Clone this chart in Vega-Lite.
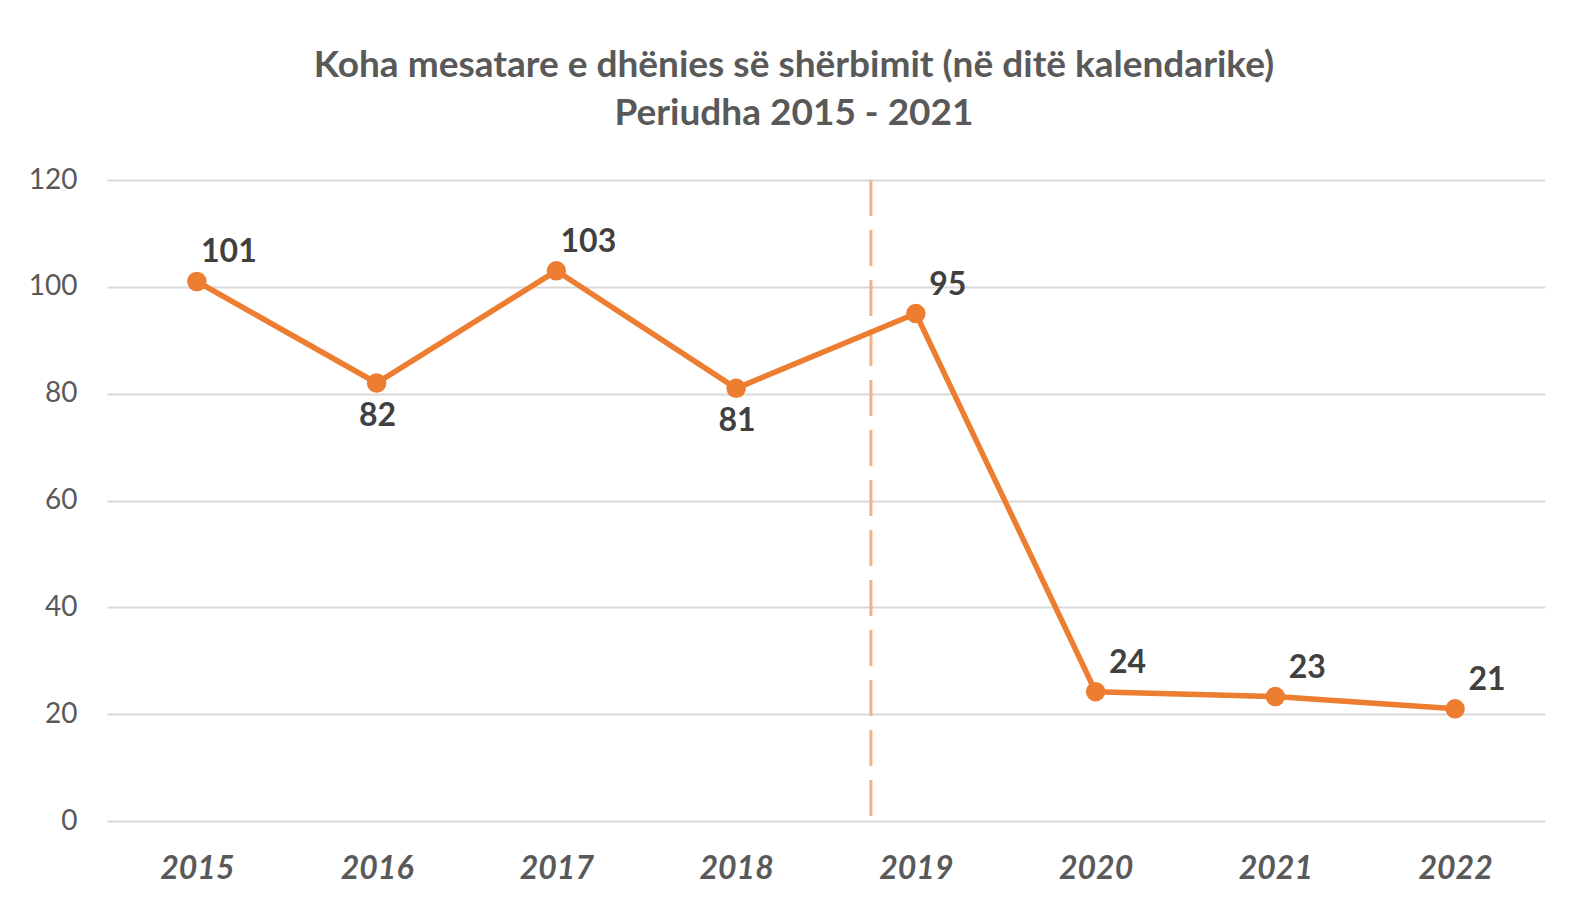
{
  "$schema": "https://vega.github.io/schema/vega-lite/v6.json",
  "width": 1438,
  "height": 641,
  "autosize": {"type": "none"},
  "padding": {"left": 107, "top": 180, "right": 27, "bottom": 87},
  "background": "white",
  "title": {
    "text": ["Koha mesatare e dhënies së shërbimit (në ditë kalendarike)", "Periudha 2015 - 2021"],
    "font": "Lato",
    "fontSize": 37,
    "fontWeight": "bold",
    "color": "#595959",
    "lineHeight": 48,
    "anchor": "middle",
    "dx": -32,
    "offset": 33
  },
  "config": {
    "view": {"stroke": null},
    "font": "Lato"
  },
  "datasets": {
    "series": [
      {"year": 2015, "value": 101},
      {"year": 2016, "value": 82},
      {"year": 2017, "value": 103},
      {"year": 2018, "value": 81},
      {"year": 2019, "value": 95},
      {"year": 2020, "value": 24.2},
      {"year": 2021, "value": 23.3},
      {"year": 2022, "value": 21}
    ],
    "divider": [
      {"year": 2018.75, "top": 120, "bottom": 0}
    ]
  },
  "layer": [
    {
      "data": {"name": "divider"},
      "mark": {"type": "rule", "color": "#F4B183", "strokeWidth": 3, "strokeDash": [36, 14]},
      "encoding": {
        "x": {"field": "year", "type": "quantitative", "scale": {"domain": [2014.5, 2022.5]}},
        "y": {"field": "top", "type": "quantitative", "scale": {"domain": [0, 120]}},
        "y2": {"field": "bottom"}
      }
    },
    {
      "data": {"name": "series"},
      "mark": {"type": "line", "color": "#ED7D31", "strokeWidth": 5.5, "point": {"filled": true, "size": 380, "color": "#ED7D31", "opacity": 1}},
      "encoding": {
        "x": {
          "field": "year", "type": "quantitative",
          "scale": {"domain": [2014.5, 2022.5], "nice": false, "zero": false},
          "axis": {
            "title": null, "values": [2015, 2016, 2017, 2018, 2019, 2020, 2021, 2022],
            "format": "d", "grid": false, "ticks": false, "domain": false,
            "labelFont": "Lato", "labelFontSize": 32, "labelFontWeight": "bold", "labelFontStyle": "italic",
            "labelColor": "#595959", "labelPadding": 32
          }
        },
        "y": {
          "field": "value", "type": "quantitative",
          "scale": {"domain": [0, 120], "nice": false},
          "axis": {
            "title": null, "values": [0, 20, 40, 60, 80, 100, 120],
            "grid": true, "gridColor": "#D9D9D9", "gridWidth": 2,
            "ticks": false, "domain": false,
            "labelFont": "Lato", "labelFontSize": 28, "labelColor": "#595959", "labelPadding": 30
          }
        }
      }
    },
    {
      "data": {"name": "series"},
      "transform": [{"filter": "datum.year != 2016 && datum.year != 2018"}],
      "mark": {"type": "text", "font": "Lato", "fontSize": 32, "fontWeight": "bold", "color": "#404040", "align": "center", "baseline": "middle", "dx": 32, "dy": -29},
      "encoding": {
        "x": {"field": "year", "type": "quantitative"},
        "y": {"field": "value", "type": "quantitative"},
        "text": {"field": "value", "type": "quantitative", "format": ".0f"}
      }
    },
    {
      "data": {"name": "series"},
      "transform": [{"filter": "datum.year == 2016 || datum.year == 2018"}],
      "mark": {"type": "text", "font": "Lato", "fontSize": 32, "fontWeight": "bold", "color": "#404040", "align": "center", "baseline": "middle", "dx": 1, "dy": 33},
      "encoding": {
        "x": {"field": "year", "type": "quantitative"},
        "y": {"field": "value", "type": "quantitative"},
        "text": {"field": "value", "type": "quantitative", "format": ".0f"}
      }
    }
  ]
}
